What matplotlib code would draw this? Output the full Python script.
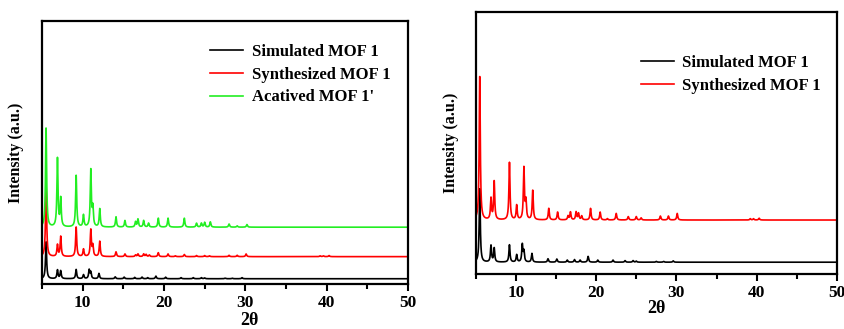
import numpy as np
import matplotlib.pyplot as plt

plt.rcParams['font.family'] = ['Liberation Serif', 'DejaVu Serif']
plt.rcParams['font.weight'] = 'bold'

# -----------------------------------
# Data (peak positions in 2theta, heights)
# -----------------------------------
sim_pos = [5.5, 6.9, 7.3, 9.2, 10.1, 10.8, 11.0, 12.0, 14.0, 15.1, 16.4, 17.3, 18.0,
           19.0, 20.2, 22.1, 23.6, 24.6, 25.0, 27.5, 28.4, 29.6]
sim_left = [14, 3.3, 3.0, 3.5, 1.5, 3.3, 2.4, 2.0, 0.7, 0.6, 0.5, 0.6, 0.4,
            1.0, 0.6, 0.4, 0.4, 0.4, 0.3, 0.2, 0.2, 0.4]
sim_right = [28, 6.3, 5.3, 6.6, 2.8, 6.6, 4.0, 3.3, 1.3, 1.2, 0.8, 1.0, 0.8,
             2.2, 0.8, 0.8, 0.6, 0.6, 0.4, 0.3, 0.3, 0.5]

syn_pos = [5.5, 6.9, 7.3, 9.2, 10.1, 11.0, 11.25, 12.1, 14.1, 15.2, 16.5, 16.8, 17.5,
           17.8, 18.2, 19.3, 20.5, 21.4, 22.5, 24.0, 25.0, 25.6, 28.0, 29.0, 30.1,
           39.2, 39.6, 40.3]
syn_left = [28, 4.4, 7.6, 11.2, 2.8, 10.1, 4.0, 5.8, 1.8, 1.0, 0.6, 1.0, 1.0,
            0.8, 0.6, 1.5, 1.0, 0.3, 0.8, 0.4, 0.4, 0.3, 0.5, 0.5, 1.0,
            0.3, 0.3, 0.4]
syn_right = [54.7, 8.0, 14.6, 21.9, 5.5, 19.7, 6.8, 11.2, 4.4, 3.0, 1.5, 3.0, 3.0,
             2.5, 1.5, 4.4, 3.0, 0.5, 2.5, 1.3, 1.3, 0.8, 1.5, 1.5, 2.5,
             0.5, 0.5, 0.7]

act_pos = [5.5, 6.9, 7.3, 9.2, 10.1, 11.0, 11.25, 12.1, 14.1, 15.2, 16.5, 16.8, 17.5,
           18.1, 19.3, 20.5, 22.5, 24.0, 24.6, 25.0, 25.7, 28.0, 29.0, 30.2]
act_left = [37.6, 26, 10.6, 19.6, 4.5, 21.5, 7.0, 6.9, 3.9, 2.5, 2.0, 3.0, 2.5,
            1.5, 3.4, 3.4, 3.4, 1.5, 1.5, 1.8, 2.0, 1.2, 0.5, 1.0]

left_offsets = {"sim": 2.0, "syn": 10.4, "act": 21.6}
right_offsets = {"sim": 4.5, "syn": 20.6}

labels = ["Simulated MOF 1", "Synthesized MOF 1", "Acatived MOF 1'"]
colors = ["black", "#ff0000", "#22ee22"]

two_theta = np.arange(5, 50.001, 0.01)


def pattern(pos, heights, offset, width=0.08):
    y = np.full_like(two_theta, offset)
    for p, h in zip(pos, heights):
        y += h / (1 + ((two_theta - p) / width) ** 2)
    return y


fig = plt.figure(figsize=(8.45, 3.29), dpi=100)
ax1 = fig.add_axes([0.0497, 0.1368, 0.4331, 0.7994])
ax2 = fig.add_axes([0.563, 0.1672, 0.4275, 0.7963])

# -----------------------------------
# Left panel
# -----------------------------------
ax1.plot(two_theta, pattern(sim_pos, sim_left, left_offsets["sim"]), color=colors[0], lw=1.2, label=labels[0])
ax1.plot(two_theta, pattern(syn_pos, syn_left, left_offsets["syn"]), color=colors[1], lw=1.2, label=labels[1])
ax1.plot(two_theta, pattern(act_pos, act_left, left_offsets["act"]), color=colors[2], lw=1.2, label=labels[2])

# -----------------------------------
# Right panel
# -----------------------------------
ax2.plot(two_theta, pattern(sim_pos, sim_right, right_offsets["sim"]), color=colors[0], lw=1.2, label=labels[0])
ax2.plot(two_theta, pattern(syn_pos, syn_right, right_offsets["syn"]), color=colors[1], lw=1.2, label=labels[1])

for ax in (ax1, ax2):
    ax.set_xlim(5, 50)
    ax.set_ylim(0, 100)
    ax.set_yticks([])
    ax.set_xticks([10, 20, 30, 40, 50])
    ax.set_xticks([5, 15, 25, 35, 45], minor=True)
    ax.tick_params(axis='x', which='major', direction='out', length=5, width=1.5, labelsize=12.5, pad=3)
    ax.tick_params(axis='x', which='minor', direction='out', length=3.5, width=1.5)
    for s in ax.spines.values():
        s.set_linewidth(1.6)
    for t in ax.get_xticklabels():
        t.set_fontweight('bold')
    ax.set_xlabel("2θ", fontsize=13, fontweight='bold')
    ax.set_ylabel("Intensity (a.u.)", fontsize=11.5, fontweight='bold')

ax1.xaxis.set_label_coords(0.566, -0.108)
ax2.xaxis.set_label_coords(0.5, -0.1)
ax1.yaxis.set_label_coords(-0.049, 0.5)
ax2.yaxis.set_label_coords(-0.046, 0.5)

leg_kw = dict(frameon=False, loc='upper left', borderpad=0, borderaxespad=0,
              handlelength=2.0, handletextpad=0.5, labelspacing=0.4,
              prop={'family': 'Liberation Serif', 'weight': 'bold', 'size': 12})
ax1.legend(bbox_to_anchor=(0.459, 0.912), **leg_kw)
ax2.legend(bbox_to_anchor=(0.457, 0.835), **leg_kw)

fig.savefig("out.png", dpi=100)
